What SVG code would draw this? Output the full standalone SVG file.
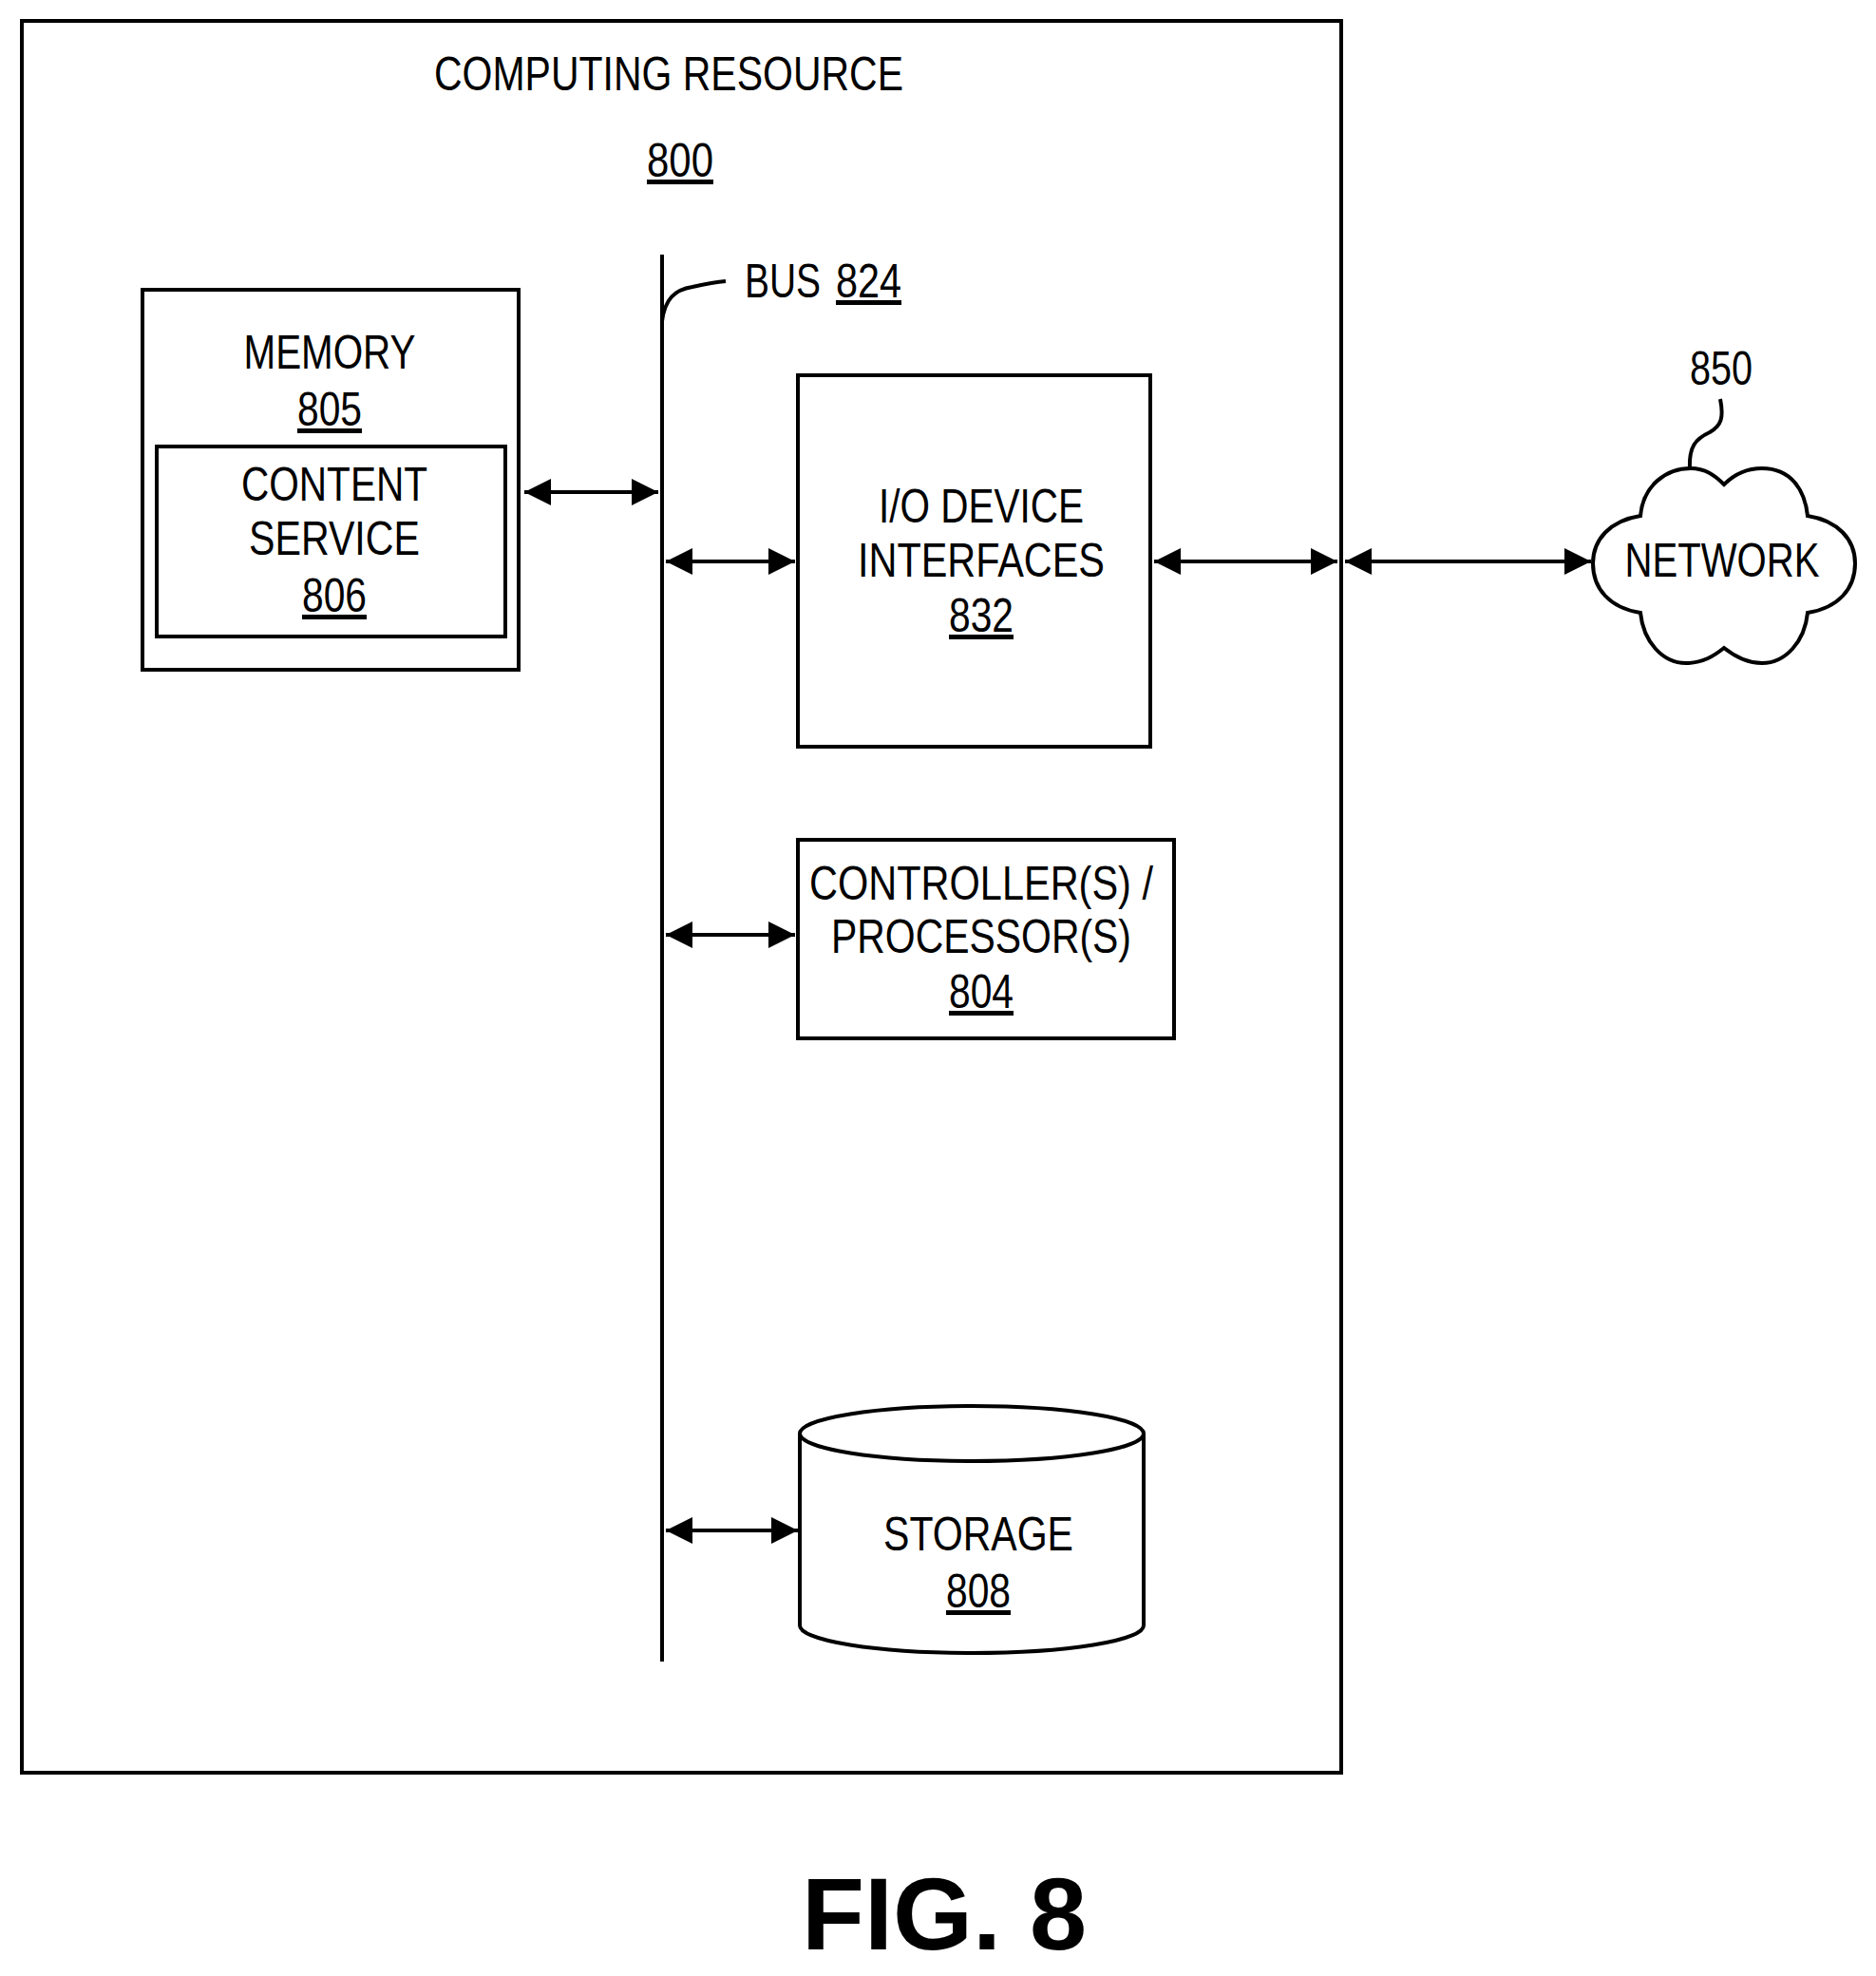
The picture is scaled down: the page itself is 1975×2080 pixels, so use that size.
<svg xmlns="http://www.w3.org/2000/svg" width="1975" height="2080" viewBox="0 0 1975 2080">
<style>
text{font-family:"Liberation Sans",Arial,sans-serif;font-size:50px;fill:#000;text-anchor:middle}
.u{text-decoration:underline}
.box{fill:#fff;stroke:#000;stroke-width:4}
.ln{fill:none;stroke:#000;stroke-width:4}
.fig{font-family:"Liberation Sans",Arial,sans-serif;font-weight:bold;font-size:108px}
</style>
<defs>
<marker id="ah" viewBox="0 0 10 10" refX="10" refY="5" markerWidth="7.5" markerHeight="7" orient="auto-start-reverse" markerUnits="strokeWidth"><path d="M0,0L10,5L0,10z" fill="#000"/></marker>
</defs>
<rect width="1975" height="2080" fill="#fff"/>
<g id="computing-resource">
<rect class="box" x="23" y="22" width="1389" height="1844"/>
<text x="704" y="95" textLength="494" lengthAdjust="spacingAndGlyphs">COMPUTING RESOURCE</text>
<text x="716" y="186" class="u" textLength="70" lengthAdjust="spacingAndGlyphs">800</text>
</g>
<g id="bus">
<line class="ln" x1="697" y1="268" x2="697" y2="1749"/>
<path class="ln" stroke-width="2.5" d="M697,338 C700,315 710,305 729,302 C747,298 752,297 764,296"/>
<text x="784" y="313" style="text-anchor:start" textLength="80" lengthAdjust="spacingAndGlyphs">BUS</text>
<text x="880" y="313" style="text-anchor:start" class="u" textLength="69" lengthAdjust="spacingAndGlyphs">824</text>
</g>
<g id="memory">
<rect class="box" x="150" y="305" width="396" height="400"/>
<text x="347" y="388" textLength="181" lengthAdjust="spacingAndGlyphs">MEMORY</text>
<text x="347" y="448" class="u" textLength="68" lengthAdjust="spacingAndGlyphs">805</text>
</g>
<g id="content-service">
<rect class="box" x="165" y="470" width="367" height="200"/>
<text x="352" y="527" textLength="196" lengthAdjust="spacingAndGlyphs">CONTENT</text>
<text x="352" y="584" textLength="180" lengthAdjust="spacingAndGlyphs">SERVICE</text>
<text x="352" y="644" class="u" textLength="68" lengthAdjust="spacingAndGlyphs">806</text>
</g>
<g id="io">
<rect class="box" x="840" y="395" width="371" height="391"/>
<text x="1033" y="550" textLength="216" lengthAdjust="spacingAndGlyphs">I/O DEVICE</text>
<text x="1033" y="607" textLength="260" lengthAdjust="spacingAndGlyphs">INTERFACES</text>
<text x="1033" y="665" class="u" textLength="68" lengthAdjust="spacingAndGlyphs">832</text>
</g>
<g id="controller">
<rect class="box" x="840" y="884" width="396" height="209"/>
<text x="1033" y="947" textLength="362" lengthAdjust="spacingAndGlyphs">CONTROLLER(S) /</text>
<text x="1033" y="1003" textLength="316" lengthAdjust="spacingAndGlyphs">PROCESSOR(S)</text>
<text x="1033" y="1061" class="u" textLength="68" lengthAdjust="spacingAndGlyphs">804</text>
</g>
<g id="storage">
<path class="box" d="M842,1509 L842,1711 A181,29 0 0 0 1204,1711 L1204,1509"/>
<ellipse class="box" cx="1023" cy="1509" rx="181" ry="29"/>
<text x="1030" y="1632" textLength="200" lengthAdjust="spacingAndGlyphs">STORAGE</text>
<text x="1030" y="1692" class="u" textLength="68" lengthAdjust="spacingAndGlyphs">808</text>
</g>
<g id="network">
<path class="box" d="M1727,543 C1730,510 1755,493 1780,493 C1795,493 1805,500 1815,510 C1825,500 1838,493 1855,493 C1885,493 1900,515 1903,543 C1935,548 1953,568 1953,593 C1953,620 1935,640 1903,645 C1900,675 1880,698 1855,698 C1838,698 1825,690 1815,682 C1805,690 1793,698 1775,698 C1750,698 1730,675 1727,645 C1695,640 1677,620 1677,593 C1677,568 1695,548 1727,543 Z"/>
<text x="1813" y="607" textLength="205" lengthAdjust="spacingAndGlyphs">NETWORK</text>
<path class="ln" stroke-width="2.5" d="M1779,493 C1778,470 1785,462 1800,455 C1812,448 1815,440 1811,420"/>
<text x="1812" y="405" textLength="66" lengthAdjust="spacingAndGlyphs">850</text>
</g>
<g id="connectors">
<line class="ln" x1="552" y1="518" x2="693" y2="518" marker-start="url(#ah)" marker-end="url(#ah)"/>
<line class="ln" x1="701" y1="591" x2="837" y2="591" marker-start="url(#ah)" marker-end="url(#ah)"/>
<line class="ln" x1="1215" y1="591" x2="1408" y2="591" marker-start="url(#ah)" marker-end="url(#ah)"/>
<line class="ln" x1="1416" y1="591" x2="1675" y2="591" marker-start="url(#ah)" marker-end="url(#ah)"/>
<line class="ln" x1="701" y1="984" x2="837" y2="984" marker-start="url(#ah)" marker-end="url(#ah)"/>
<line class="ln" x1="701" y1="1611" x2="840" y2="1611" marker-start="url(#ah)" marker-end="url(#ah)"/>
</g>
<text class="fig" x="994" y="2052">FIG. 8</text>
</svg>
